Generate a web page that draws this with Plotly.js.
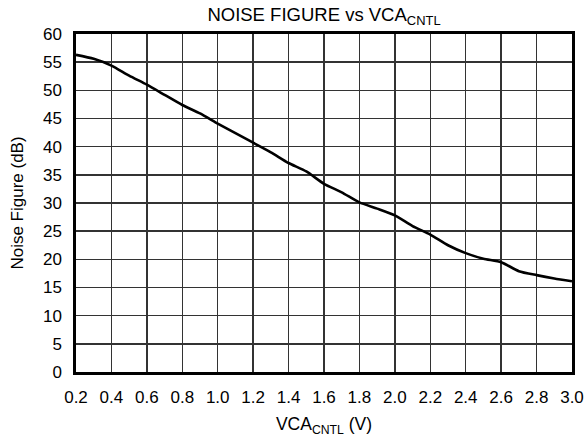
<!DOCTYPE html>
<html>
<head>
<meta charset="utf-8">
<script src="https://cdn.plot.ly/plotly-3.0.1.min.js"></script>
<style>
html,body{margin:0;padding:0;background:#fff;}
#chart{width:586px;height:444px;}
</style>
</head>
<body>
<div id="chart"></div>
<script>
const vcaCntl = [0.2,0.3,0.4,0.5,0.6,0.7,0.8,0.9,1.0,1.1,1.2,1.3,1.4,1.5,1.6,1.7,1.8,1.9,2.0,2.1,2.2,2.3,2.4,2.5,2.6,2.7,2.8,2.9,3.0];
const noiseFigure = [56.3,55.6,54.4,52.6,51.0,49.2,47.4,45.9,44.1,42.4,40.7,39.0,37.1,35.6,33.4,31.9,30.1,29.0,27.8,25.9,24.4,22.5,21.1,20.1,19.5,17.9,17.2,16.6,16.1];
const xTicks = [0.2,0.4,0.6,0.8,1.0,1.2,1.4,1.6,1.8,2.0,2.2,2.4,2.6,2.8,3.0];
const xTickLabels = ["0.2","0.4","0.6","0.8","1.0","1.2","1.4","1.6","1.8","2.0","2.2","2.4","2.6","2.8","3.0"];
const yTicks = [0,5,10,15,20,25,30,35,40,45,50,55,60];

const FONT = "Arial, 'Liberation Sans', sans-serif";

const trace = {
  x: vcaCntl,
  y: noiseFigure,
  type: 'scatter',
  mode: 'lines',
  line: {color: '#000', width: 2.6, shape: 'spline', smoothing: 0.6},
  hoverinfo: 'skip'
};

const layout = {
  width: 586, height: 444,
  margin: {l: 76, r: 14, t: 34, b: 72},
  paper_bgcolor: '#fff', plot_bgcolor: '#fff',
  showlegend: false,
  font: {family: FONT, color: '#000', size: 17},
  title: {
    text: 'NOISE FIGURE vs VCA<sub>CNTL</sub>',
    font: {family: FONT, size: 18.5, color: '#000'},
    x: 0.5, xref: 'paper', xanchor: 'center',
    y: 1 - 15/444, yref: 'container', yanchor: 'middle'
  },
  xaxis: {
    range: [0.2, 3.0],
    tickmode: 'array', tickvals: xTicks, ticktext: xTickLabels,
    ticks: '', ticklabelstandoff: 8,
    showgrid: true, gridcolor: '#333', gridwidth: 1.5,
    zeroline: false,
    showline: true, linecolor: '#000', linewidth: 2.6, mirror: true,
    tickfont: {family: FONT, size: 17, color: '#000'},
    title: {text: 'VCA<sub>CNTL</sub> (V)', font: {family: FONT, size: 17.5, color: '#000'}, standoff: 12},
    fixedrange: true
  },
  yaxis: {
    range: [0, 60],
    tickmode: 'array', tickvals: yTicks,
    ticks: '', ticklabelstandoff: 8,
    showgrid: true, gridcolor: '#333', gridwidth: 1.5,
    zeroline: false,
    showline: true, linecolor: '#000', linewidth: 2.6, mirror: true,
    tickfont: {family: FONT, size: 17, color: '#000'},
    title: {text: 'Noise Figure (dB)', font: {family: FONT, size: 17, color: '#000'}, standoff: 15},
    fixedrange: true
  }
};

Plotly.newPlot('chart', [trace], layout, {staticPlot: true, displayModeBar: false});
</script>
</body>
</html>
